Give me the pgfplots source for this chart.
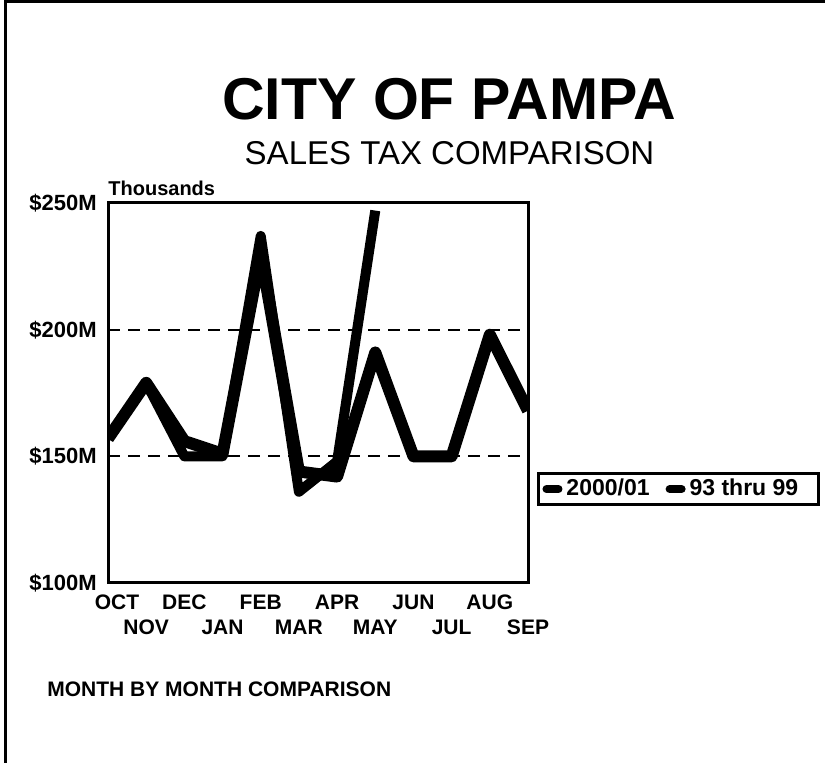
\documentclass[border=0pt]{standalone}
\usepackage{fontspec}
\setmainfont{Liberation Sans}
\usepackage{pgfplots}
\pgfplotsset{compat=1.18}

\begin{document}
\begin{tikzpicture}
\useasboundingbox (0pt,0pt) rectangle (412.5pt,381.5pt);
\draw[line width=1.5pt] (2.75pt,0pt) -- (2.75pt,380.75pt) -- (412.5pt,380.75pt);
\node[anchor=base, inner sep=0pt, font=\bfseries\fontsize{29.5}{29.5}\selectfont] at (224.5pt,321.5pt) {CITY OF PAMPA};
\node[anchor=base, inner sep=0pt, font=\fontsize{16.5}{16.5}\selectfont] at (224.75pt,299pt) {SALES TAX COMPARISON};
\node[anchor=base west, inner sep=0pt, font=\bfseries\fontsize{10.5}{10.5}\selectfont] at (23.5pt,33pt) {MONTH BY MONTH COMPARISON};

\begin{axis}[
  at={(54pt,90pt)}, anchor=south west,
  scale only axis, width=210pt, height=190pt,
  xmin=0, xmax=11, ymin=100, ymax=250,
  clip mode=individual,
  axis line style={line width=1.5pt},
  major tick length=0pt,
  ytick={100,150,200,250},
  yticklabels={\$100M,\$150M,\$200M,\$250M},
  ymajorgrids,
  grid style={dash pattern=on 6pt off 4pt, line width=1pt, black},
  xtick={0,2,4,6,8,10},
  xticklabels={\hspace*{9pt}OCT,DEC,FEB,APR,JUN,AUG},
  extra x ticks={1,3,5,7,9,11},
  extra x tick labels={NOV,JAN,MAR,MAY,JUL,SEP},
  extra x tick style={xticklabel style={yshift=-12.5pt}},
  xticklabel style={font=\bfseries\fontsize{10.5}{10.5}\selectfont, inner sep=0pt, anchor=base, yshift=-13.5pt},
  yticklabel style={font=\bfseries\fontsize{11}{11}\selectfont, inner sep=0pt, anchor=east, xshift=-5.5pt},
  legend style={at={(1.0214,0.247)}, anchor=west, draw=black, line width=1.5pt,
    font=\bfseries\fontsize{11.5}{11.5}\selectfont, inner xsep=2pt, inner ysep=1pt},
  legend columns=2,
  legend cell align=left,
  /tikz/every even column/.append style={column sep=6pt},
  legend image code/.code={\draw[line width=4pt, line cap=round] (0pt,0pt) -- (6pt,0pt);},
]
\addplot[black, line width=5pt, line join=round] coordinates {
  (0,157) (1,179) (2,150) (3,150) (4,237) (5,136) (6,148) (7,247)};
\addlegendentry{2000/01}
\addplot[black, line width=6pt, line join=round] coordinates {
  (0,157) (1,179) (2,156) (3,151) (4,230) (5,144) (6,142) (7,191) (8,150) (9,150) (10,198) (11,168)};
\addlegendentry{93 thru 99\hspace*{6pt}}
\node[anchor=base west, inner sep=0pt, yshift=3.5pt, font=\bfseries\fontsize{10}{10}\selectfont] at (rel axis cs:0,1) {Thousands};
\end{axis}
\end{tikzpicture}
\end{document}
